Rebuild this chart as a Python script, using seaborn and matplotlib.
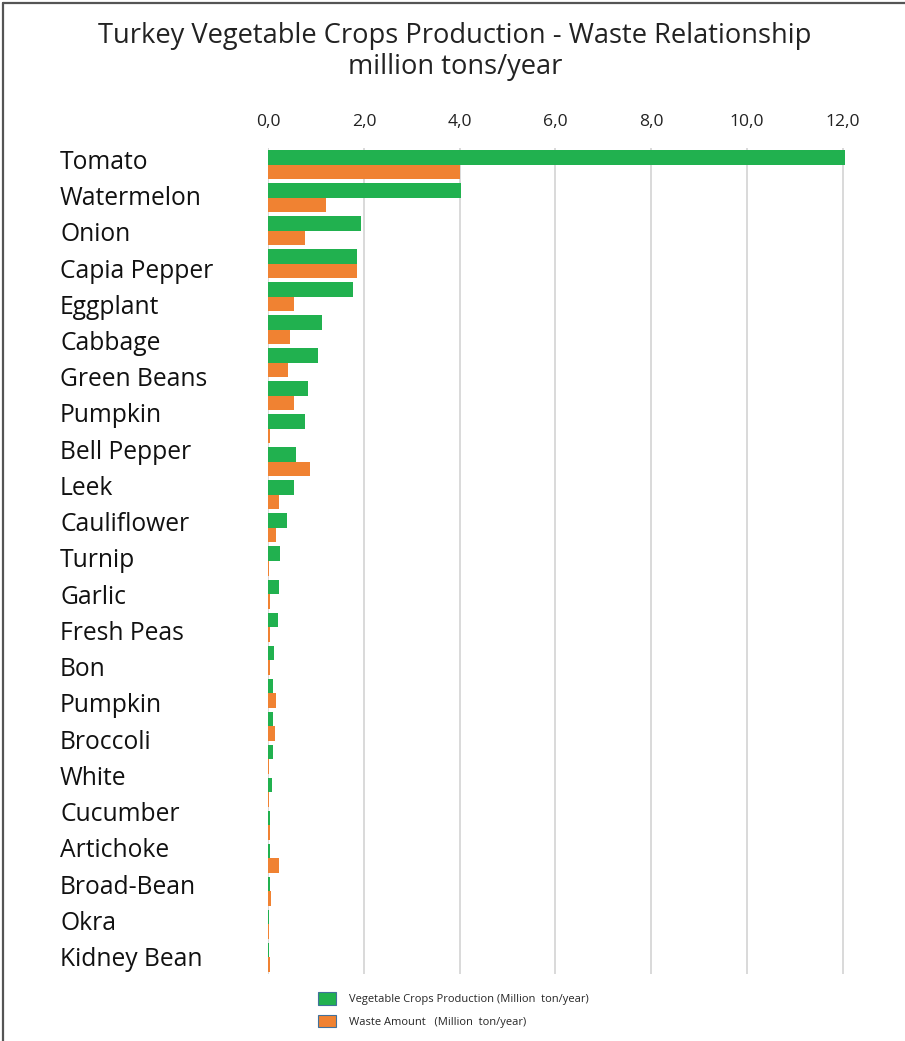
import numpy as np
import pandas as pd
import matplotlib
matplotlib.use("Agg")
import matplotlib.pyplot as plt
from matplotlib.patches import Patch
from matplotlib.lines import Line2D
import seaborn as sns

# ---------------- data ----------------
crop_labels = ["Tomato", "Watermelon", "Onion", "Capia Pepper", "Eggplant", "Cabbage",
               "Green Beans", "Pumpkin", "Bell Pepper", "Leek", "Cauliflower", "Turnip",
               "Garlic", "Fresh Peas", "Bon", "Pumpkin", "Broccoli", "White", "Cucumber",
               "Artichoke", "Broad-Bean", "Okra", "Kidney Bean"]

bar_rows = ["R01", "R02", "R03", "R04", "R05", "R06", "R07", "R08", "R09", "R10",
            "R11", "R12", "R13", "R14", "R15", "R16", "R17", "R18", "R19", "R20",
            "R21", "R22", "R23", "R24", "R25"]

production = [12.05, 4.03, 1.94, 1.85, 1.76, 1.13, 1.03, 0.84, 0.77, 0.585,
              0.53, 0.40, 0.25, 0.23, 0.195, 0.12, 0.105, 0.09, 0.09, 0.07,
              0.04, 0.04, 0.03, 0.02, 0.01]
waste = [4.00, 1.21, 0.77, 1.85, 0.53, 0.45, 0.42, 0.54, 0.03, 0.88,
         0.22, 0.16, 0.005, 0.04, 0.045, 0.03, 0.17, 0.13, 0.01, 0.01,
         0.04, 0.22, 0.055, 0.01, 0.03]

series_names = ["Vegetable Crops Production (Million  ton/year)",
                "Waste Amount   (Million  ton/year)"]
x_ticks = [0, 2, 4, 6, 8, 10, 12]

title_line1 = "Turkey Vegetable Crops Production - Waste Relationship"
title_line2 = "million tons/year"

GREEN = "#21B14F"
ORANGE = "#F08232"

df = pd.DataFrame({
    "row": bar_rows * 2,
    "series": [series_names[0]] * len(bar_rows) + [series_names[1]] * len(bar_rows),
    "value": production + waste,
})

# ---------------- figure ----------------
sns.set_theme(style="white")
plt.rcParams["font.family"] = ["Open Sans", "DejaVu Sans"]

W, H = 905, 1041
fig = plt.figure(figsize=(W / 100, H / 100), dpi=100)
ax_left, ax_right, ax_top, ax_bottom = 268.3, 866.0, 148.0, 974.0
ax = fig.add_axes([ax_left / W, 1 - ax_bottom / H, (ax_right - ax_left) / W,
                   (ax_bottom - ax_top) / H])

sns.barplot(data=df, y="row", x="value", hue="series", order=bar_rows,
            hue_order=series_names, palette=[GREEN, ORANGE], orient="h",
            width=0.88, dodge=True, legend=False, linewidth=0, ax=ax,
            errorbar=None, saturation=1, zorder=3)

ax.set_xlim(0, 12.49)
ax.set_ylim(len(bar_rows) - 0.5, -0.5)

# x axis on top
ax.xaxis.tick_top()
ax.set_xticks(x_ticks)
ax.set_xticklabels([f"{v:.1f}".replace(".", ",") for v in x_ticks],
                   fontsize=12.6, color="#222222")
ax.tick_params(axis="x", length=0, pad=13)
ax.grid(axis="x", color="#D9D9D9", linewidth=1.4, zorder=0)
ax.grid(axis="y", visible=False)
ax.set_axisbelow(True)
for s in ax.spines.values():
    s.set_visible(False)
ax.set_xlabel("")
ax.set_ylabel("")

# crop labels (their own even spacing, as in the source)
pitch = (ax_bottom - ax_top) / len(bar_rows)
first_base, last_base = 168.8, 966.0
label_pos = np.linspace((first_base - ax_top) / pitch - 0.5,
                        (last_base - ax_top) / pitch - 0.5, len(crop_labels))
ax.set_yticks(label_pos)
ax.set_yticklabels(crop_labels, fontsize=17.7, color="#111111")
ax.tick_params(axis="y", length=0, pad=(ax_left - 60) * 0.72)
for t in ax.get_yticklabels():
    t.set_ha("left")
    t.set_va("baseline")

# title
fig.text(455 / W, 1 - 43.3 / H, title_line1, ha="center", va="baseline",
         fontsize=19.6, color="#222222")
fig.text(455 / W, 1 - 74 / H, title_line2, ha="center", va="baseline",
         fontsize=19.6, color="#222222")

# legend
handles = [Patch(facecolor=GREEN, edgecolor="#41719C", linewidth=0.8),
           Patch(facecolor=ORANGE, edgecolor="#41719C", linewidth=0.8)]
fig.legend(handles, series_names, loc="upper left",
           bbox_to_anchor=(318 / W, 1 - 992 / H), frameon=False, fontsize=8,
           handlelength=1.6, handleheight=1.4, handletextpad=1.15,
           labelspacing=0.85, borderpad=0, borderaxespad=0)

# border (left and top edges)
fig.add_artist(Line2D([3 / W, 3 / W], [0, 1 - 3 / H], transform=fig.transFigure,
                      color="#555555", linewidth=1.6))
fig.add_artist(Line2D([3 / W, 1], [1 - 3 / H, 1 - 3 / H], transform=fig.transFigure,
                      color="#555555", linewidth=1.6))

fig.savefig("out.png", dpi=100)
